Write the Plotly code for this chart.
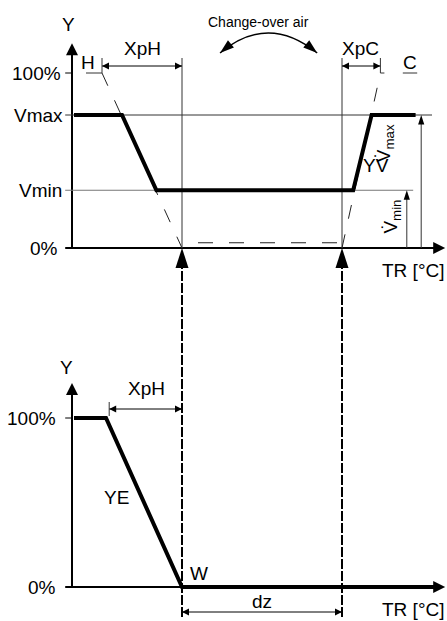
import plotly.graph_objects as go

# page / layout parameters (pixels of the 447x621 page)
PAGE_W, PAGE_H = 447, 621
X0_PX, PX_PER_X = 182, 8.0          # x = 0 (set point W) sits at 182 px
TOP0_PX, TOP_PX_PER_PCT = 248, 1.75  # upper diagram: 0 % line
BOT0_PX, BOT_PX_PER_PCT = 587, 1.69  # lower diagram: 0 % line

FONT = "Liberation Sans, Arial, sans-serif"
FS = 19

# ---- data (x in TR units relative to W, y in %) ----
xph = 10.0
xpc = 4.8
dz = 20.0
vmax = 76
vmin = 33

axis_x_start = -14.6
axis_y_pos = -13.75
axis_x_tip = 32.9
top_y_tip = 117
bot_y_tip = 120.7

# YV characteristic (upper diagram)
yv_x = [-13.5, -7.5, -3.2, 21.4, 23.7, 29.2]
yv_y = [vmax, vmax, vmin, vmin, vmax, vmax]

# YE characteristic (lower diagram)
ye_x = [-13.5, -9.5, 0, 31.5]
ye_y = [100, 100, 0, 0]

# dashed proportional-band lines
band_h_x = [-xph, 0]
band_h_y = [100, 0]
band_c_x = [dz, dz + xpc]
band_c_y = [0, 100]
zero_dash_x = [2.0, 19.8]
zero_dash_y = [3, 3]


def px_x(px):
    return (px - X0_PX) / PX_PER_X


def ty(px):
    return (TOP0_PX - px) / TOP_PX_PER_PCT


def by(px):
    return (BOT0_PX - px) / BOT_PX_PER_PCT


fig = go.Figure()


def line(x, y, width=1, color="black", dash=None, yaxis="y"):
    fig.add_trace(go.Scatter(x=x, y=y, mode="lines", yaxis=yaxis, hoverinfo="skip",
                             line=dict(color=color, width=width, dash=dash)))


def head(x, y, symbol, size, angle=0, yaxis="y"):
    fig.add_trace(go.Scatter(x=[x], y=[y], mode="markers", yaxis=yaxis, hoverinfo="skip",
                             marker=dict(symbol=symbol, size=size, angle=angle,
                                         color="black", line=dict(width=0))))


def text(x, y, s, size=FS, yref="y", xanchor="center", angle=0):
    fig.add_annotation(x=x, y=y, xref="x", yref=yref, text=s, showarrow=False,
                       xanchor=xanchor, yanchor="middle", textangle=angle,
                       font=dict(family=FONT, size=size, color="black"))


# ================= upper diagram =================
thin = "#333333"
line([axis_x_start, axis_x_tip - 0.5], [0, 0], width=2)
head(axis_x_tip, 0, "arrow-right", 12)
line([axis_y_pos, axis_y_pos], [0, top_y_tip - 2], width=2)
head(axis_y_pos, top_y_tip, "arrow-up", 12)
line([axis_x_start, axis_y_pos], [100, 100], width=1)

line([axis_x_start, 31.25], [vmax, vmax], color=thin)
line([axis_x_start, 28.9], [vmin, vmin], color="#777777")

line([0, 0], [0, ty(58)], color=thin)
line([dz, dz], [0, ty(58)], color=thin)

line(band_h_x, band_h_y, color="#222222", dash="14px,16px")
line(band_c_x, band_c_y, color="#222222", dash="14px,16px")
line(zero_dash_x, zero_dash_y, color="#222222", dash="15px,16px")

line(yv_x, yv_y, width=4)

# dimension XpH / XpC
dim_y = ty(66)
line([-xph, 0], [dim_y, dim_y])
head(-xph, dim_y, "arrow-left", 7)
head(0, dim_y, "arrow-right", 7)
line([-xph, -xph], [ty(58), 100], color=thin)
line([dz, dz + xpc], [dim_y, dim_y])
head(dz, dim_y, "arrow-left", 7)
head(dz + xpc, dim_y, "arrow-right", 7)
line([dz + xpc, dz + xpc], [ty(58), 100], color=thin)
line([dz + xpc, dz + xpc + 0.5], [100, 100], color=thin)

# H / C underlines
line([-12.0, -10.0], [100, 100], color=thin)
line([27.6, 29.4], [100, 100], color=thin)

# Vmax / Vmin arrows
line([29.9, 29.9], [0, vmax - 4], color=thin)
head(29.9, vmax, "arrow", 10)
line([28.1, 28.1], [0, vmin - 4], color=thin)
head(28.1, vmin, "arrow", 10)

# change-over arc
arc_x0, arc_x1, arc_cx = 4.75, 16.9, 10.75
arc_y0, arc_cy = ty(53), ty(13)
fig.add_shape(type="path", xref="x", yref="y",
              path=f"M {arc_x0},{arc_y0} Q {arc_cx},{arc_cy} {arc_x1},{arc_y0}",
              line=dict(color="black", width=1.3))
head(arc_x0, arc_y0, "arrow", 15, angle=-130)
head(arc_x1, arc_y0, "arrow", 15, angle=130)

text(-14.25, ty(24), "Y")
text(-14.9, 100, "100%", xanchor="right")
text(-14.6, vmax, "Vmax", xanchor="right")
text(-14.8, vmin, "Vmin", xanchor="right")
text(-15.3, 0, "0%", xanchor="right")
text(-11.75, ty(62), "H")
text(28.5, ty(62), "C")
text(-5.0, ty(48), "XpH")
text(22.25, ty(48), "XpC")
text(9.6, ty(22), "Change-over air", size=14)
text(24.3, ty(165), "YV")
text(25.4, ty(143), "V\u0307<sub>max</sub>", angle=-90)
text(26.2, ty(217), "V\u0307<sub>min</sub>", angle=-90)
text(px_x(446), ty(270), "TR [°C]", xanchor="right")

# ================= lower diagram =================
line([axis_x_start, axis_x_tip - 0.5], [0, 0], width=2, yaxis="y2")
head(axis_x_tip, 0, "arrow-right", 12, yaxis="y2")
line([axis_y_pos, axis_y_pos], [0, bot_y_tip - 2], width=2, yaxis="y2")
head(axis_y_pos, bot_y_tip, "arrow-up", 12, yaxis="y2")
line([axis_x_start, axis_y_pos], [100, 100], width=1, yaxis="y2")

line(ye_x, ye_y, width=4, yaxis="y2")

# connectors to the upper diagram
top_zero_in_bot = by(TOP0_PX)
for cx in [0, dz]:
    line([cx, cx], [by(617), top_zero_in_bot - 8], width=2, dash="10px,2px", yaxis="y2")
    head(cx, top_zero_in_bot, "arrow", 21, yaxis="y2")

# XpH dimension
dim2 = by(409)
line([-9.1, 0], [dim2, dim2], yaxis="y2")
head(-9.1, dim2, "arrow-left", 7, yaxis="y2")
head(0, dim2, "arrow-right", 7, yaxis="y2")
line([-9.1, -9.1], [by(402), by(416)], color=thin, yaxis="y2")

# dz dimension
dzy = by(612)
line([0, dz], [dzy, dzy], yaxis="y2")
head(0, dzy, "arrow-left", 7, yaxis="y2")
head(dz, dzy, "arrow-right", 7, yaxis="y2")

text(-14.4, by(367), "Y", yref="y2")
text(-15.5, 100, "100%", yref="y2", xanchor="right")
text(-15.5, 0, "0%", yref="y2", xanchor="right")
text(-4.4, by(388), "XpH", yref="y2")
text(-8.25, by(497), "YE", yref="y2")
text(2.1, by(573), "W", yref="y2")
text(10.0, by(601), "dz", yref="y2")
text(px_x(446), by(609), "TR [°C]", yref="y2", xanchor="right")

fig.update_layout(
    width=PAGE_W, height=PAGE_H,
    margin=dict(l=0, r=0, t=0, b=0),
    paper_bgcolor="white", plot_bgcolor="white",
    showlegend=False,
    xaxis=dict(range=[px_x(0), px_x(PAGE_W)], visible=False, fixedrange=True),
    yaxis=dict(range=[ty(PAGE_H), ty(0)], visible=False, domain=[0, 1], fixedrange=True),
    yaxis2=dict(range=[by(PAGE_H), by(0)], visible=False, overlaying="y", fixedrange=True),
)

# page body margin off so the figure fills the 447x621 window exactly
fig.write_html("out.html", config={"displayModeBar": False},
               post_script="document.body.style.margin='0';document.body.style.overflow='hidden';")
